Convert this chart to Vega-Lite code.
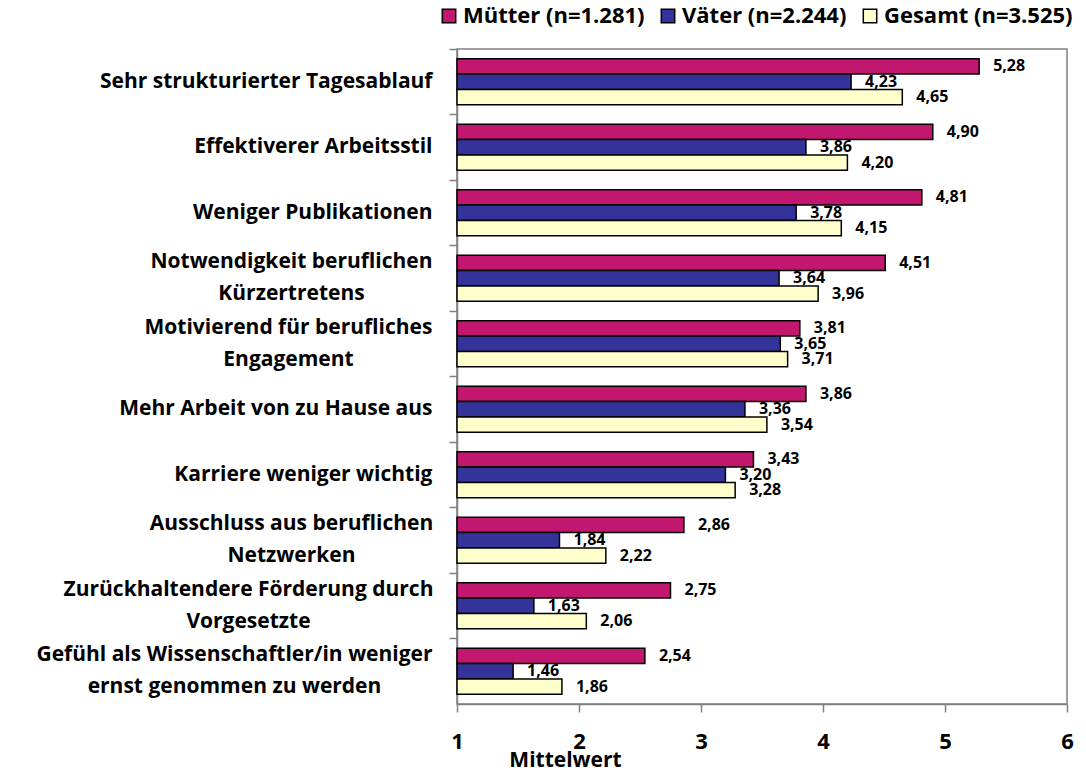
{
  "$schema": "https://vega.github.io/schema/vega-lite/v6.json",
  "width": 610,
  "height": 655,
  "autosize": "none",
  "padding": {"left": 457, "top": 49, "right": 19, "bottom": 67},
  "config": {
    "font": "Open Sans",
    "locale": {"number": {"decimal": ",", "thousands": ".", "grouping": [3], "currency": ["", " €"]}},
    "view": {"stroke": "#808080", "strokeWidth": 1.5}
  },
  "data": {"values": [
    {"cat": "Sehr strukturierter Tagesablauf", "group": "Mütter (n=1.281)", "value": 5.28},
    {"cat": "Sehr strukturierter Tagesablauf", "group": "Väter (n=2.244)", "value": 4.23},
    {"cat": "Sehr strukturierter Tagesablauf", "group": "Gesamt (n=3.525)", "value": 4.65},
    {"cat": "Effektiverer Arbeitsstil", "group": "Mütter (n=1.281)", "value": 4.90},
    {"cat": "Effektiverer Arbeitsstil", "group": "Väter (n=2.244)", "value": 3.86},
    {"cat": "Effektiverer Arbeitsstil", "group": "Gesamt (n=3.525)", "value": 4.20},
    {"cat": "Weniger Publikationen", "group": "Mütter (n=1.281)", "value": 4.81},
    {"cat": "Weniger Publikationen", "group": "Väter (n=2.244)", "value": 3.78},
    {"cat": "Weniger Publikationen", "group": "Gesamt (n=3.525)", "value": 4.15},
    {"cat": "Notwendigkeit beruflichen|Kürzertretens", "group": "Mütter (n=1.281)", "value": 4.51},
    {"cat": "Notwendigkeit beruflichen|Kürzertretens", "group": "Väter (n=2.244)", "value": 3.64},
    {"cat": "Notwendigkeit beruflichen|Kürzertretens", "group": "Gesamt (n=3.525)", "value": 3.96},
    {"cat": "Motivierend für berufliches|Engagement", "group": "Mütter (n=1.281)", "value": 3.81},
    {"cat": "Motivierend für berufliches|Engagement", "group": "Väter (n=2.244)", "value": 3.65},
    {"cat": "Motivierend für berufliches|Engagement", "group": "Gesamt (n=3.525)", "value": 3.71},
    {"cat": "Mehr Arbeit von zu Hause aus", "group": "Mütter (n=1.281)", "value": 3.86},
    {"cat": "Mehr Arbeit von zu Hause aus", "group": "Väter (n=2.244)", "value": 3.36},
    {"cat": "Mehr Arbeit von zu Hause aus", "group": "Gesamt (n=3.525)", "value": 3.54},
    {"cat": "Karriere weniger wichtig", "group": "Mütter (n=1.281)", "value": 3.43},
    {"cat": "Karriere weniger wichtig", "group": "Väter (n=2.244)", "value": 3.20},
    {"cat": "Karriere weniger wichtig", "group": "Gesamt (n=3.525)", "value": 3.28},
    {"cat": "Ausschluss aus beruflichen|Netzwerken", "group": "Mütter (n=1.281)", "value": 2.86},
    {"cat": "Ausschluss aus beruflichen|Netzwerken", "group": "Väter (n=2.244)", "value": 1.84},
    {"cat": "Ausschluss aus beruflichen|Netzwerken", "group": "Gesamt (n=3.525)", "value": 2.22},
    {"cat": "Zurückhaltendere Förderung durch|Vorgesetzte", "group": "Mütter (n=1.281)", "value": 2.75},
    {"cat": "Zurückhaltendere Förderung durch|Vorgesetzte", "group": "Väter (n=2.244)", "value": 1.63},
    {"cat": "Zurückhaltendere Förderung durch|Vorgesetzte", "group": "Gesamt (n=3.525)", "value": 2.06},
    {"cat": "Gefühl als Wissenschaftler/in weniger|ernst genommen zu werden", "group": "Mütter (n=1.281)", "value": 2.54},
    {"cat": "Gefühl als Wissenschaftler/in weniger|ernst genommen zu werden", "group": "Väter (n=2.244)", "value": 1.46},
    {"cat": "Gefühl als Wissenschaftler/in weniger|ernst genommen zu werden", "group": "Gesamt (n=3.525)", "value": 1.86}
  ]},
  "encoding": {
    "y": {
      "field": "cat", "type": "nominal", "sort": null,
      "scale": {"paddingInner": 0, "paddingOuter": 0},
      "axis": {
        "title": null,
        "bandPosition": 0,
        "labelExpr": "split(datum.label, '|')",
        "labelFontSize": 21,
        "labelFontWeight": "bold",
        "labelColor": "black",
        "labelLineHeight": 32,
        "labelLimit": 600,
        "tickSize": 8,
        "tickWidth": 1.5,
        "tickColor": "#808080",
        "domainColor": "#808080",
        "domainWidth": 1.5,
        "labelAlign": {"condition": {"test": "indexof(datum.value, '|') >= 0", "value": "center"}, "value": "right"},
        "labelOffset": {"condition": {"test": "indexof(datum.value, '|') >= 0", "value": -16}, "value": 0},
        "labelPadding": {"condition": [
          {"test": "datum.value == 'Notwendigkeit beruflichen|Kürzertretens'", "value": 158},
          {"test": "datum.value == 'Motivierend für berufliches|Engagement'", "value": 161},
          {"test": "datum.value == 'Ausschluss aus beruflichen|Netzwerken'", "value": 158},
          {"test": "datum.value == 'Zurückhaltendere Förderung durch|Vorgesetzte'", "value": 201},
          {"test": "datum.value == 'Gefühl als Wissenschaftler/in weniger|ernst genommen zu werden'", "value": 215}
        ], "value": 17}
      }
    },
    "yOffset": {
      "field": "group", "type": "nominal",
      "sort": ["Mütter (n=1.281)", "Väter (n=2.244)", "Gesamt (n=3.525)"],
      "scale": {"paddingInner": 0, "paddingOuter": 0.64}
    }
  },
  "layer": [
    {
      "mark": {"type": "bar", "stroke": "black", "strokeWidth": 1.5, "cornerRadius": 0},
      "encoding": {
        "x": {
          "field": "value", "type": "quantitative",
          "scale": {"domain": [1, 6], "nice": false, "zero": false},
          "axis": {
            "title": "Mittelwert",
            "values": [1, 2, 3, 4, 5, 6],
            "format": "d",
            "grid": false,
            "labelFontSize": 22,
            "labelFontWeight": "bold",
            "labelColor": "black",
            "labelPadding": 19,
            "labelFlush": false,
            "tickSize": 8,
            "tickWidth": 1.5,
            "tickColor": "#808080",
            "domainColor": "#808080",
            "domainWidth": 1.5,
            "titleFontSize": 21,
            "titleFontWeight": "bold",
            "titleColor": "black",
            "titleX": 108,
            "titleY": 56,
            "titleAlign": "center",
            "titleBaseline": "middle"
          }
        },
        "x2": {"datum": 1},
        "color": {
          "field": "group", "type": "nominal",
          "sort": ["Mütter (n=1.281)", "Väter (n=2.244)", "Gesamt (n=3.525)"],
          "scale": {"domain": ["Mütter (n=1.281)", "Väter (n=2.244)", "Gesamt (n=3.525)"], "range": ["#C2176F", "#333399", "#FFFFCC"]},
          "legend": {
            "orient": "none",
            "legendX": -19,
            "legendY": -44,
            "direction": "horizontal",
            "title": null,
            "labelFontSize": 22,
            "labelFontWeight": "bold",
            "labelColor": "black",
            "labelLimit": 400,
            "labelOffset": 3,
            "symbolType": "square",
            "symbolSize": 180,
            "symbolStrokeColor": "black",
            "symbolStrokeWidth": 1.5,
            "columnPadding": 12
          }
        }
      }
    },
    {
      "mark": {"type": "text", "align": "left", "baseline": "middle", "dx": 14, "fontSize": 16, "fontWeight": "bold", "color": "black"},
      "encoding": {
        "x": {"field": "value", "type": "quantitative"},
        "text": {"field": "value", "type": "quantitative", "format": ".2f"}
      }
    }
  ]
}
